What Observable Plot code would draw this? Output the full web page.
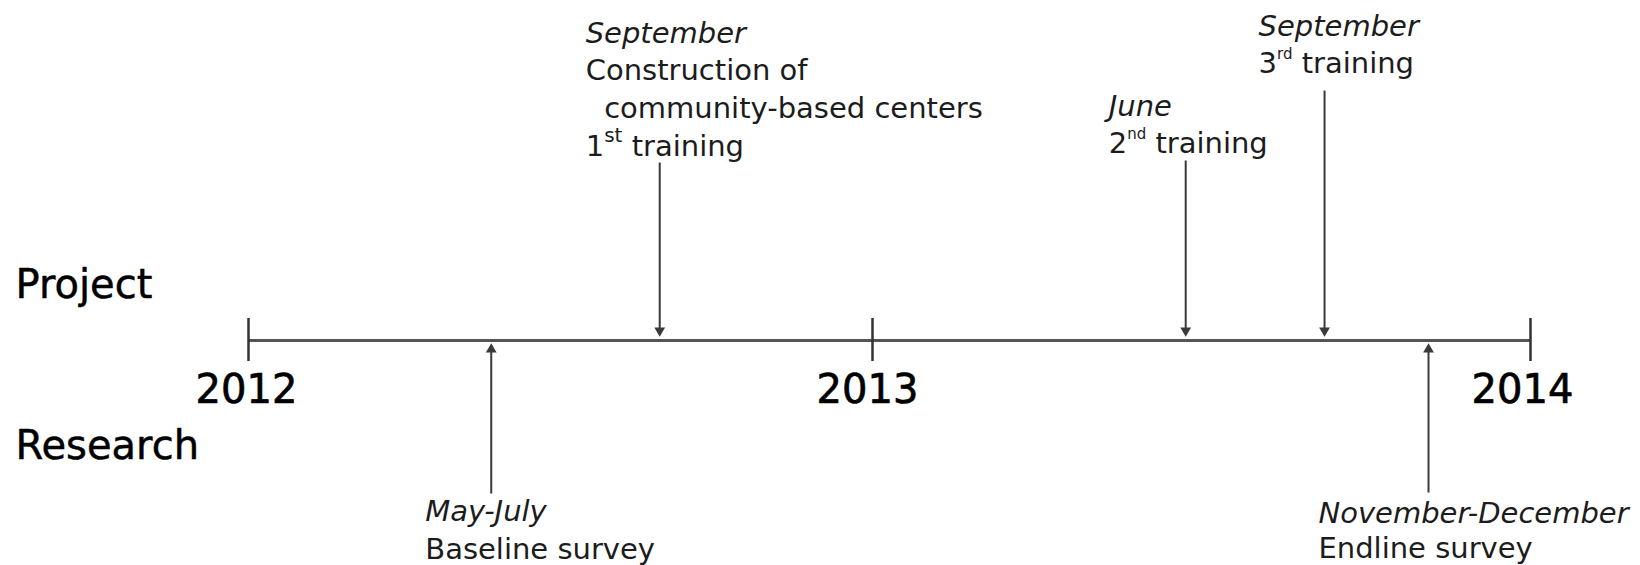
<!DOCTYPE html>
<html>
<head>
<meta charset="utf-8">
<script src="https://cdn.jsdelivr.net/npm/d3@7"></script>
<script src="https://cdn.jsdelivr.net/npm/@observablehq/plot@0.6"></script>
<style>
  html, body { margin: 0; padding: 0; background: #ffffff; }
  #chart svg { display: block; }
</style>
</head>
<body>
<div id="chart"></div>
<script>
// ---------- data ----------
const years = [2012, 2013, 2014];
const yearLabels = ["2012", "2013", "2014"];
const sideLabels = ["Project", "Research"];

const eventIds = ["construction", "training2", "training3", "baseline", "endline"];
const eventDates = [2012.659, 2013.476, 2013.687, 2012.389, 2013.845]; // decimal years
const eventSides = ["Project", "Project", "Project", "Research", "Research"];
const eventMonths = ["September", "June", "September", "May-July", "November-December"];
const eventDescriptions = [
  "Construction of\n\u00a0\u00a0community-based centers\n1st training",
  "2nd training",
  "3rd training",
  "Baseline survey",
  "Endline survey"
];

// ---------- layout (not data) ----------
// y units: height above the timeline
const layout = {
  xRange: [248, 872, 1530],
  yDomain: [-225, 340],
  tick: [-21, 22],
  yearBaseline: -62,
  yearDx: [-2, -5, -8],
  sideBaseline: { Project: 43, Research: -118 },
  events: {
    construction: { end: 178, tip: 4, dx: -74, month: 298, desc: 185 },
    training2:    { end: 180, tip: 4, dx: -77, month: 225, desc: 188 },
    training3:    { end: 250, tip: 4, dx: -66, month: 305, desc: 268 },
    baseline:     { end: -153, tip: -3, dx: -66, month: -180, desc: -218 },
    endline:      { end: -152, tip: -3, dx: -110, month: -182, desc: -217 }
  }
};

const events = eventIds.map((id, i) => ({
  id, date: eventDates[i], side: eventSides[i], month: eventMonths[i], desc: eventDescriptions[i]
}));

const ink = "#1c1c1c";
const lineInk = "#3a3a3a";
const smallFont = 29;
const bigFont = 40;
const headR = 4;
const headOffset = 6;

const eventMarks = events.flatMap(e => {
  const L = layout.events[e.id];
  const down = e.side === "Project";
  const centroid = down ? L.tip + headOffset : L.tip - headOffset;
  return [
    Plot.link([e], { x1: "date", x2: "date", y1: () => L.end, y2: () => centroid, stroke: lineInk, strokeWidth: 2 }),
    Plot.dot([e], { x: "date", y: () => centroid, symbol: "triangle", r: headR, fill: lineInk, stroke: "none", rotate: down ? 180 : 0 }),
    Plot.text([e], { x: "date", y: () => L.month, text: "month", dx: L.dx, textAnchor: "start", lineAnchor: "bottom",
      fontStyle: "italic", fontSize: smallFont, fill: ink }),
    Plot.text([e], { x: "date", y: () => L.desc, text: "desc", dx: L.dx, textAnchor: "start", lineAnchor: "bottom",
      lineHeight: 1.31, fontSize: smallFont, fill: ink })
  ];
});

const chart = Plot.plot({
  width: 1640,
  height: 565,
  margin: 0,
  style: { fontFamily: "DejaVu Sans", background: "#ffffff", overflow: "visible" },
  x: { type: "linear", domain: years, range: layout.xRange, axis: null },
  y: { type: "linear", domain: layout.yDomain, range: [565, 0], axis: null },
  marks: [
    Plot.ruleY([0], { x1: years[0], x2: years[years.length - 1], stroke: "#555555", strokeWidth: 3 }),
    Plot.ruleX(years, { x: d => d, y1: layout.tick[0], y2: layout.tick[1], stroke: "#333333", strokeWidth: 2.5 }),
    ...years.map((yr, i) => Plot.text([yr], {
      x: d => d, y: () => layout.yearBaseline, text: () => yearLabels[i], dx: layout.yearDx[i],
      lineAnchor: "bottom", fontSize: bigFont, fill: "#000000", stroke: "#000000", strokeWidth: 0.7
    })),
    Plot.text(sideLabels, {
      frameAnchor: "left", dx: 15, y: d => layout.sideBaseline[d], text: d => d,
      textAnchor: "start", lineAnchor: "bottom", fontSize: bigFont, fill: "#000000", stroke: "#000000", strokeWidth: 0.5
    }),
    ...eventMarks
  ]
});

// superscript ordinals (1st, 2nd, 3rd)
const supStyle = { st: { size: 20, raise: 14 }, nd: { size: 15, raise: 14 }, rd: { size: 15, raise: 14 } };
chart.querySelectorAll("text, tspan").forEach(el => {
  if (el.children.length) return;
  const m = (el.textContent || "").match(/^(.*?\d)(st|nd|rd)(\s.*)$/);
  if (!m) return;
  const s = supStyle[m[2]];
  const ns = "http://www.w3.org/2000/svg";
  el.textContent = m[1];
  const sup = document.createElementNS(ns, "tspan");
  sup.setAttribute("dy", -s.raise);
  sup.setAttribute("font-size", s.size);
  sup.textContent = m[2];
  const rest = document.createElementNS(ns, "tspan");
  rest.setAttribute("dy", s.raise);
  rest.textContent = m[3].replace(/^\s/, "\u00a0");
  el.appendChild(sup);
  el.appendChild(rest);
});

document.getElementById("chart").appendChild(chart);
</script>
</body>
</html>
